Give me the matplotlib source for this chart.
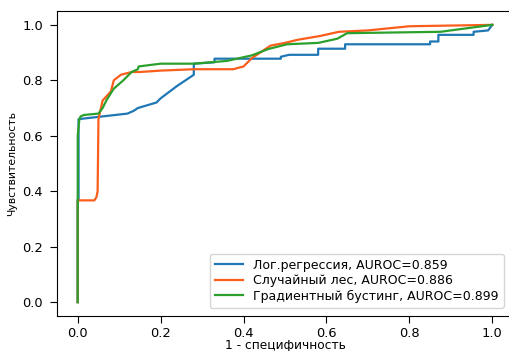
import matplotlib
matplotlib.use("Agg")
import matplotlib.pyplot as plt

labels = ["Лог.регрессия, AUROC=0.859",
          "Случайный лес, AUROC=0.886",
          "Градиентный бустинг, AUROC=0.899"]

lr_x = [0.0, 0.0, 0.002, 0.002, 0.12, 0.135, 0.145, 0.19, 0.2, 0.24, 0.26, 0.28, 0.28, 0.33, 0.33,
        0.49, 0.49, 0.51, 0.58, 0.58, 0.645, 0.645, 0.85, 0.85, 0.87, 0.87, 0.955, 0.955, 0.99, 1.0]
lr_y = [0.0, 0.37, 0.37, 0.66, 0.68, 0.69, 0.70, 0.72, 0.735, 0.78, 0.80, 0.82, 0.86, 0.865, 0.878,
        0.878, 0.885, 0.892, 0.892, 0.914, 0.914, 0.93, 0.93, 0.94, 0.94, 0.964, 0.964, 0.975, 0.98, 1.0]

rf_x = [0.0, 0.0, 0.04, 0.045, 0.048, 0.05, 0.06, 0.08, 0.087, 0.104, 0.13, 0.15, 0.2, 0.28,
        0.375, 0.40, 0.42, 0.44, 0.465, 0.50, 0.53, 0.585, 0.63, 0.70, 0.80, 1.0]
rf_y = [0.0, 0.367, 0.367, 0.378, 0.40, 0.66, 0.727, 0.76, 0.80, 0.82, 0.83, 0.83, 0.835, 0.84,
        0.84, 0.85, 0.88, 0.90, 0.925, 0.935, 0.946, 0.96, 0.975, 0.98, 0.995, 1.0]

gb_x = [0.0, 0.0, 0.004, 0.007, 0.015, 0.05, 0.06, 0.07, 0.087, 0.11, 0.13, 0.145, 0.147, 0.2,
        0.28, 0.36, 0.39, 0.42, 0.46, 0.505, 0.58, 0.626, 0.65, 0.875, 1.0]
gb_y = [0.0, 0.60, 0.66, 0.67, 0.675, 0.68, 0.70, 0.73, 0.77, 0.80, 0.83, 0.84, 0.85, 0.86,
        0.86, 0.87, 0.88, 0.89, 0.913, 0.93, 0.935, 0.95, 0.97, 0.975, 1.0]

colors = ["#1f77b4", "#fb5d1b", "#2ca02c"]

fig = plt.figure(figsize=(5.10, 3.51), dpi=100)
ax = fig.add_axes([57/510, (351-316)/351, (513-57)/510, (316-11)/351])

ax.plot(lr_x, lr_y, color=colors[0], lw=1.6, label=labels[0])
ax.plot(rf_x, rf_y, color=colors[1], lw=1.6, label=labels[1])
ax.plot(gb_x, gb_y, color=colors[2], lw=1.6, label=labels[2])

ax.set_xlim(-0.05, 1.05)
ax.set_ylim(-0.05, 1.05)
ax.set_xticks([0.0, 0.2, 0.4, 0.6, 0.8, 1.0])
ax.set_yticks([0.0, 0.2, 0.4, 0.6, 0.8, 1.0])
ax.tick_params(labelsize=9.4, length=5)
ax.tick_params(axis="x", pad=3)
ax.tick_params(axis="y", pad=5)
ax.set_xlabel("1 - специфичность", fontsize=8.8)
ax.xaxis.set_label_coords(0.5, (316 - 339.5) / 305)
ax.set_ylabel("Чувствительность", fontsize=7.8)
ax.yaxis.set_label_coords((17 - 57) / 456, 0.5)
ax.legend(loc="lower right", bbox_to_anchor=(0.988, 0.015), fontsize=9.0,
          handlelength=2.3, labelspacing=0.2, borderaxespad=0.3)

fig.savefig("out.png", dpi=100)
